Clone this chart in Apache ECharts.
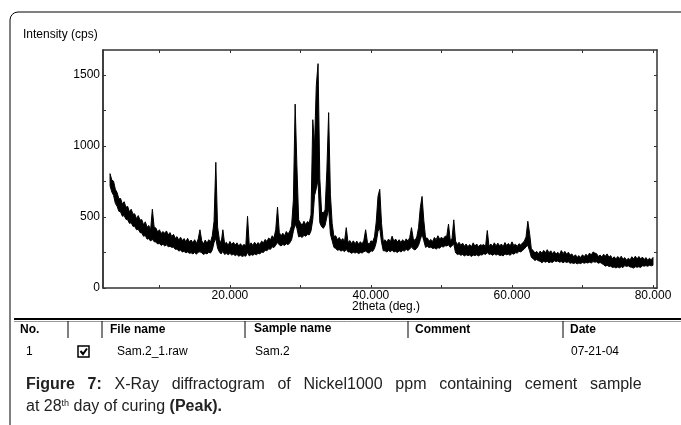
<!DOCTYPE html>
<html>
<head>
<meta charset="utf-8">
<script src="https://cdn.jsdelivr.net/npm/echarts@6/dist/echarts.min.js"></script>
<style>
html, body { margin: 0; padding: 0; background: #fff; }
#chart { width: 681px; height: 425px; }
</style>
</head>
<body>
<div id="chart"></div>
<script>
var myChart = echarts.init(document.getElementById('chart'));

// 2theta grid of the scan (deg.)
var thetaStart = 3.0;
var thetaStep = 0.25;

// top of the noisy trace (cps), 4 points per degree
var upper3to20 = [
    805, 760, 752, 695,   672, 628, 630, 590,   608, 568, 575, 535,
    555, 520, 522, 488,   510, 478, 482, 445,   466, 428, 440, 408,
    555, 430, 422, 395,   410, 384, 398, 385,   402, 374, 390, 362,
    378, 350, 362, 336,   358, 334, 348, 325,   350, 324, 338, 318,
    340, 314, 345, 410,   334, 310, 338, 315,   340, 324, 368, 470,
    885, 430, 342, 315,   410, 310, 322, 300
];
var upper20to40 = [
    328, 306, 322, 302,   318, 296, 312, 294,   308, 295, 505, 298,
    318, 300, 322, 304,   320, 306, 330, 318,   342, 328, 352, 340,
    368, 352, 412, 570,   392, 366, 386, 368,   398, 380, 402, 440,
    620, 1295, 860, 480,  458, 442, 470, 446,   468, 458, 515, 1185,
    1000, 1425, 1580, 770, 535, 528, 550, 830,  1235, 660, 455, 362,
    368, 340, 356, 334,   348, 326, 425, 320,   334, 314, 332, 312,
    330, 308, 326, 310,   336, 410, 322, 306
];
var upper40to60 = [
    332, 326, 360, 465,   645, 695, 455, 328,   340, 322, 345, 324,
    365, 330, 345, 324,   340, 320, 340, 324,   346, 330, 356, 425,
    348, 334, 360, 425,   565, 645, 475, 352,   352, 330, 342, 328,
    356, 340, 368, 344,   358, 344, 364, 365,   450, 336, 346, 480,
    330, 306, 322, 300,   316, 294, 310, 290,   306, 290, 318, 294,
    310, 290, 305, 300,   306, 290, 405, 292,   310, 294, 318, 296,
    316, 296, 310, 290,   320, 300, 314, 296
];
var upper60to80 = [
    325, 300, 308, 292,   312, 302, 318, 330,   360, 470, 385, 275,
    265, 246, 258, 240,   260, 245, 265, 248,   270, 248, 262, 242,
    258, 238, 252, 236,   264, 242, 258, 238,   252, 232, 240, 220,
    234, 216, 228, 214,   234, 220, 238, 224,   246, 232, 254, 246,
    242, 222, 232, 218,   238, 224, 240, 216,   228, 206, 220, 204,
    222, 208, 224, 202,   214, 196, 210, 198,   220, 204, 224, 204,
    222, 204, 218, 200,   214, 196, 210, 198,   215
];

// bottom of the noisy trace (cps), same grid
var lower3to20 = [
    720, 676, 652, 596,   575, 540, 535, 505,   510, 484, 480, 455,
    460, 434, 434, 410,   414, 390, 388, 364,   370, 344, 348, 330,
    344, 326, 324, 310,   314, 300, 308, 296,   304, 290, 294, 286,
    288, 272, 274, 260,   266, 254, 258, 248,   254, 244, 248, 240,
    250, 238, 252, 255,   248, 236, 244, 240,   252, 246, 268, 320,
    350, 280, 254, 240,   258, 236, 244, 234
];
var lower20to40 = [
    244, 232, 238, 228,   236, 224, 230, 222,   228, 224, 250, 226,
    236, 230, 240, 234,   244, 240, 254, 250,   266, 262, 276, 272,
    290, 285, 302, 320,   304, 296, 306, 300,   312, 305, 318, 340,
    400, 450, 420, 360,   364, 356, 372, 364,   378, 374, 402, 480,
    650, 700, 760, 460,   432, 420, 442, 500,   560, 380, 332, 286,
    278, 266, 270, 260,   266, 256, 272, 254,   254, 244, 252, 246,
    252, 242, 250, 246,   256, 260, 250, 246
];
var lower40to60 = [
    262, 258, 278, 320,   400, 420, 322, 262,   262, 254, 264, 256,
    266, 254, 258, 250,   262, 254, 264, 260,   272, 264, 274, 290,
    274, 268, 280, 300,   340, 380, 332, 286,   294, 284, 288, 278,
    282, 274, 284, 280,   294, 288, 298, 296,   304, 286, 298, 310,
    248, 236, 240, 230,   236, 226, 234, 228,   232, 222, 232, 228,
    234, 226, 234, 232,   242, 236, 250, 236,   240, 230, 240, 232,
    238, 228, 232, 226,   240, 234, 238, 230
];
var lower60to80 = [
    244, 238, 248, 246,   258, 254, 264, 275,   290, 300, 262, 216,
    206, 194, 200, 192,   188, 178, 188, 182,   188, 178, 184, 180,
    192, 186, 190, 182,   186, 178, 186, 180,   184, 174, 178, 172,
    178, 170, 176, 172,   180, 174, 180, 176,   182, 176, 186, 182,
    184, 174, 180, 172,   164, 154, 160, 152,   154, 144, 148, 141,
    148, 142, 150, 144,   158, 151, 156, 148,   146, 140, 150, 146,
    150, 144, 157, 154,   158, 153, 160, 156,   160
];

// tick values
var xLabelTicks = [20, 40, 60, 80];
var xMinorTicks = [10, 20, 30, 40, 50, 60, 70, 80];
var yLabelTicks = [0, 500, 1000, 1500];
var yMinorTicks = [0, 250, 500, 750, 1000, 1250, 1500];

var upper = [].concat(upper3to20, upper20to40, upper40to60, upper60to80);
var lower = [].concat(lower3to20, lower20to40, lower40to60, lower60to80);
var traceData = upper.map(function (v, i) {
    return [thetaStart + i * thetaStep, lower[i], v];
});

var baseFont = '"Liberation Sans", Arial, sans-serif';
var axisColor = '#333';

function frameX(pos) {
    return {
        type: 'value',
        min: 2,
        max: 80.57,
        position: pos,
        z: 10,
        axisLine: { show: true, onZero: false, lineStyle: { color: axisColor, width: 1.5 } },
        axisTick: { show: true, inside: true, length: 3, customValues: xMinorTicks, lineStyle: { color: axisColor } },
        axisLabel: {
            show: pos === 'bottom',
            customValues: xLabelTicks,
            margin: 2,
            color: '#000',
            fontSize: 12,
            fontFamily: baseFont,
            formatter: function (v) { return v.toFixed(3); }
        },
        splitLine: { show: false }
    };
}

function frameY(pos) {
    return {
        type: 'value',
        min: 0,
        max: 1676,
        position: pos,
        z: 10,
        axisLine: { show: true, onZero: false, lineStyle: { color: pos === 'left' ? '#000' : axisColor, width: 1.5 } },
        axisTick: { show: true, inside: true, length: 3, customValues: yMinorTicks, lineStyle: { color: axisColor } },
        axisLabel: {
            show: pos === 'left',
            customValues: yLabelTicks,
            margin: 3,
            color: '#000',
            fontSize: 12,
            fontFamily: baseFont,
            formatter: function (v) { return String(v); }
        },
        splitLine: { show: false }
    };
}

// the noisy trace is drawn as one black band between its bottom and top edges
function renderTrace(params, api) {
    if (params.dataIndex !== 0) {
        return null;
    }
    var top = [];
    var bottom = [];
    for (var i = 0; i < traceData.length; i++) {
        top.push(api.coord([traceData[i][0], traceData[i][2]]));
        bottom.push(api.coord([traceData[i][0], traceData[i][1]]));
    }
    return {
        type: 'polygon',
        shape: { points: top.concat(bottom.reverse()) },
        style: { fill: '#000', stroke: '#000', lineWidth: 1, lineJoin: 'round' }
    };
}

var option = {
    animation: false,
    grid: {
        left: 103,
        right: 24,
        top: 50,
        bottom: 137
    },
    xAxis: [frameX('bottom'), frameX('top')],
    yAxis: [frameY('left'), frameY('right')],
    series: [
        {
            type: 'custom',
            data: traceData,
            encode: { x: 0, y: [1, 2] },
            renderItem: renderTrace
        }
    ],
    graphic: [
        // outer frame with rounded top-left corner
        {
            type: 'rect',
            shape: { x: 10, y: 12, width: 700, height: 450, r: [8, 0, 0, 0] },
            style: { fill: 'none', stroke: '#000', lineWidth: 1 }
        },
        { type: 'text', x: 23, y: 35, style: { text: 'Intensity (cps)', font: '12px ' + baseFont, fill: '#000', verticalAlign: 'middle' } },
        { type: 'text', x: 352, y: 307, style: { text: '2theta (deg.)', font: '12px ' + baseFont, fill: '#000', verticalAlign: 'middle' } },

        // table
        { type: 'line', shape: { x1: 14, y1: 319, x2: 681, y2: 319 }, style: { stroke: '#000', lineWidth: 2 } },
        { type: 'line', shape: { x1: 14, y1: 321.5, x2: 681, y2: 321.5 }, style: { stroke: '#999', lineWidth: 1 } },
        { type: 'line', shape: { x1: 68, y1: 321, x2: 68, y2: 338 }, style: { stroke: '#000', lineWidth: 1 } },
        { type: 'line', shape: { x1: 102, y1: 321, x2: 102, y2: 338 }, style: { stroke: '#000', lineWidth: 1 } },
        { type: 'line', shape: { x1: 245, y1: 321, x2: 245, y2: 338 }, style: { stroke: '#000', lineWidth: 1 } },
        { type: 'line', shape: { x1: 408, y1: 321, x2: 408, y2: 338 }, style: { stroke: '#000', lineWidth: 1 } },
        { type: 'line', shape: { x1: 563, y1: 321, x2: 563, y2: 338 }, style: { stroke: '#000', lineWidth: 1 } },
        { type: 'text', x: 20, y: 330, style: { text: 'No.', font: 'bold 12px ' + baseFont, fill: '#000', verticalAlign: 'middle' } },
        { type: 'text', x: 110, y: 330, style: { text: 'File name', font: 'bold 12px ' + baseFont, fill: '#000', verticalAlign: 'middle' } },
        { type: 'text', x: 254, y: 329, style: { text: 'Sample name', font: 'bold 12px ' + baseFont, fill: '#000', verticalAlign: 'middle' } },
        { type: 'text', x: 415, y: 330, style: { text: 'Comment', font: 'bold 12px ' + baseFont, fill: '#000', verticalAlign: 'middle' } },
        { type: 'text', x: 570, y: 330, style: { text: 'Date', font: 'bold 12px ' + baseFont, fill: '#000', verticalAlign: 'middle' } },
        { type: 'text', x: 26, y: 352, style: { text: '1', font: '12px ' + baseFont, fill: '#000', verticalAlign: 'middle' } },
        {
            type: 'rect',
            shape: { x: 78, y: 346, width: 11, height: 11 },
            style: { fill: '#fff', stroke: '#000', lineWidth: 1.5 }
        },
        {
            type: 'polyline',
            shape: { points: [[80.5, 351], [83, 354], [87, 348.5]] },
            style: { stroke: '#000', lineWidth: 2, fill: 'none' }
        },
        { type: 'text', x: 117, y: 352, style: { text: 'Sam.2_1.raw', font: '12px ' + baseFont, fill: '#000', verticalAlign: 'middle' } },
        { type: 'text', x: 255, y: 352, style: { text: 'Sam.2', font: '12px ' + baseFont, fill: '#000', verticalAlign: 'middle' } },
        { type: 'text', x: 571, y: 352, style: { text: '07-21-04', font: '12px ' + baseFont, fill: '#000', verticalAlign: 'middle' } },

        // caption (first line justified, hence the wide spaces)
        {
            type: 'text', x: 26, y: 385,
            style: {
                text: '{b|Figure}{sp| }{b|7:}{sp| }X-Ray{sp| }diffractogram{sp| }of{sp| }Nickel1000{sp| }ppm{sp| }containing{sp| }cement{sp| }sample',
                font: '16px ' + baseFont, fill: '#222', verticalAlign: 'middle',
                rich: {
                    b: { fontWeight: 'bold', fontSize: 16, fontFamily: baseFont },
                    sp: { width: 12.7, fontSize: 16, fontFamily: baseFont }
                }
            }
        },
        {
            type: 'text', x: 26, y: 407,
            style: {
                text: 'at 28{sup|th} day of curing {b|(Peak).}',
                font: '16px ' + baseFont, fill: '#222', verticalAlign: 'middle',
                rich: {
                    b: { fontWeight: 'bold', fontSize: 16, fontFamily: baseFont },
                    sup: { fontSize: 9, fontFamily: baseFont, verticalAlign: 'top', padding: [0, 0, 6, 0] }
                }
            }
        }
    ]
};

myChart.setOption(option);
</script>
</body>
</html>
